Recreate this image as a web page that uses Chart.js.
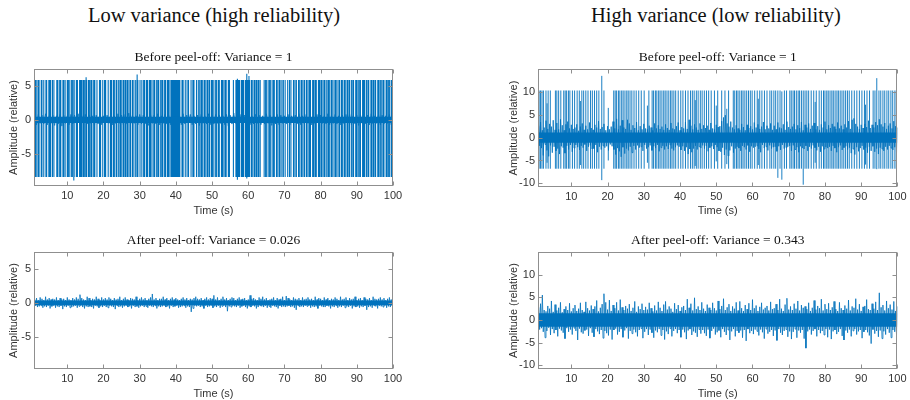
<!DOCTYPE html>
<html>
<head>
<meta charset="utf-8">
<script src="https://cdn.jsdelivr.net/npm/chart.js@4.4.0/dist/chart.umd.min.js"></script>
<style>
  body { margin: 0; background: #fff; }
  #wrap { position: relative; width: 910px; height: 400px; overflow: hidden; }
  #wrap canvas { position: absolute; left: 0; top: 0; }
  .head {
    position: absolute; top: 3px; transform: translateX(-50%);
    font: 20.5px/24px 'Liberation Serif', 'Times New Roman', serif;
    color: #111; white-space: nowrap;
  }
</style>
</head>
<body>
<div id="wrap">
  <div class="head" style="left:214px">Low variance (high reliability)</div>
  <div class="head" style="left:716px">High variance (low reliability)</div>
  <canvas id="lvBefore" width="910" height="400"></canvas>
  <canvas id="lvAfter" width="910" height="400"></canvas>
  <canvas id="hvBefore" width="910" height="400"></canvas>
  <canvas id="hvAfter" width="910" height="400"></canvas>
</div>
<script>
// time axis and tick labels
const timeTicks = [10, 20, 30, 40, 50, 60, 70, 80, 90, 100];
const lvAmpTicks = [-5, 0, 5];
const hvAmpTicks = [-10, -5, 0, 5, 10];

// decimated traces start at t = 1 s; the "before" low variance one is kept every 0.5 s,
// the others every 0.25 s
const traceStart = 1;

const lvBeforeTrace = [
  0.6,-0.7,0.8,-0.5,0.7,-0.6,0.9,-0.7,0.6,-0.5,0.7,-0.8,0.6,-0.6,0.8,-0.9,0.7,-0.5,0.6,-0.7,
  0.8,-0.6,0.7,-0.5,0.9,-0.7,0.6,-0.6,0.8,-0.6,0.7,-0.5,0.6,-0.8,0.7,-0.6,0.9,-0.7,0.6,-0.6,
  0.7,-0.5,0.8,-0.7,0.6,-0.6,0.9,-0.5,0.7,-0.7,0.8,-0.6,1.0,-0.6,0.7,-0.5,0.6,-0.7,0.8,-0.6,
  0.7,-0.6,0.6,-0.8,0.8,-0.5,0.7,-0.6,0.9,-0.7,0.6,-0.5,0.8,-0.6,0.7,-0.7,0.6,-0.6,0.8,-0.5,
  0.6,-0.7,0.9,-0.6,0.7,-0.5,0.8,-0.7,0.6,-0.6,0.7,-0.8,0.8,-0.5,0.6,-0.6,0.9,-0.7,0.7,-0.6,
  0.8,-0.5,0.7,-0.6,0.6,-0.7,0.8,-0.9,0.7,-0.6,1.0,-0.5,0.6,-0.7,0.8,-0.6,0.7,-0.5,0.9,-0.7,
  0.6,-0.6,0.8,-0.5,0.7,-0.7,0.6,-0.6,0.9,-0.5,0.7,-0.8,0.6,-0.6,0.8,-0.7,0.7,-0.5,0.6,-0.6,
  0.8,-0.7,0.6,-0.5,0.7,-0.6,0.9,-0.7,0.6,-0.6,0.8,-0.5,0.7,-0.7,0.6,-0.6,0.8,-0.8,0.7,-0.5,
  0.6,-0.6,0.9,-0.7,0.7,-0.5,0.8,-0.6,0.6,-0.7,0.7,-0.6,0.8,-0.5,0.9,-0.7,0.6,-0.6,0.7,-0.8,
  0.8,-0.5,0.6,-0.6,0.7,-0.7,0.9,-0.6,0.6,-0.5,0.8,-0.7,0.7,-0.6,0.6,-0.5,0.8,-0.7,0.7
];

const lvAfterTrace = [
  0.5,-0.4,0.7,-0.6,0.4,-0.5,0.8,-0.4,0.6,-0.7,0.4,-0.5,0.9,-0.6,0.5,-0.4,0.7,-0.8,0.5,-0.5,
  0.6,-0.4,0.5,-0.7,0.8,-0.5,0.4,-0.6,0.7,-0.4,0.5,-0.9,0.6,-0.5,0.4,-0.6,0.8,-0.4,0.5,-0.7,
  0.4,-0.6,0.7,-0.5,0.5,-0.4,0.8,-0.7,0.6,-0.5,1.2,-0.4,0.7,-0.6,0.5,-0.8,0.4,-0.5,0.9,-0.6,
  0.7,-0.5,0.4,-0.6,0.6,-0.8,0.5,-0.4,0.9,-0.5,0.6,-0.7,0.4,-0.5,0.8,-0.6,0.5,-0.4,0.7,-0.6,
  0.5,-0.7,0.8,-0.4,0.6,-0.5,0.4,-0.6,0.7,-0.9,0.5,-0.4,0.6,-0.6,0.9,-0.5,0.4,-0.7,0.6,-0.5,
  0.8,-0.4,0.5,-0.6,0.4,-0.5,0.7,-0.8,0.6,-0.4,0.5,-0.6,0.9,-0.5,0.4,-0.7,0.6,-0.5,0.8,-0.4,
  0.5,-0.6,0.7,-0.5,0.4,-0.7,0.6,-0.4,0.8,-0.5,1.3,-0.6,0.5,-0.4,0.7,-0.8,0.4,-0.5,0.6,-0.6,
  0.6,-0.5,0.9,-0.4,0.5,-0.6,0.7,-0.5,0.4,-0.8,0.6,-0.4,0.8,-0.6,0.5,-0.5,0.7,-0.4,0.5,-0.7,
  0.4,-0.6,0.6,-0.5,0.8,-0.4,0.5,-0.7,0.7,-0.5,0.4,-0.6,0.6,-1.3,0.5,-0.8,0.7,-0.4,0.9,-0.5,
  0.6,-0.4,0.5,-0.6,0.7,-0.5,0.4,-0.8,0.6,-0.4,0.8,-0.6,0.5,-0.5,0.7,-0.4,0.6,-0.7,1.1,-0.5,
  0.5,-0.6,0.8,-0.4,0.4,-0.7,0.6,-0.5,0.9,-0.4,0.5,-0.6,0.7,-1.2,0.4,-0.5,0.6,-0.6,0.8,-0.4,
  0.7,-0.5,0.4,-0.6,0.6,-0.4,0.8,-0.7,0.5,-0.5,0.6,-0.4,0.7,-0.6,0.4,-0.8,0.5,-0.5,1.1,-0.6,
  0.6,-0.4,0.7,-0.5,0.5,-0.8,0.4,-0.6,0.8,-0.4,0.6,-0.5,0.9,-0.6,0.5,-0.4,0.7,-0.7,0.4,-0.5,
  0.5,-0.7,0.6,-0.4,0.8,-0.5,0.4,-0.6,0.7,-0.8,0.5,-0.4,0.6,-0.6,0.9,-0.5,0.4,-0.6,1.0,-0.5,
  0.7,-0.4,0.5,-0.6,0.4,-0.5,0.8,-0.7,0.6,-1.0,0.5,-0.4,0.7,-0.6,0.4,-0.5,0.8,-0.6,0.5,-0.4,
  0.6,-0.5,0.8,-0.4,0.5,-0.7,0.6,-0.5,0.4,-0.6,0.9,-0.5,0.5,-0.8,0.7,-0.4,0.6,-0.5,0.4,-0.6,
  0.8,-0.6,0.5,-0.4,0.7,-0.5,0.4,-0.8,0.6,-0.5,0.5,-0.6,0.8,-0.4,0.6,-0.7,0.4,-0.5,0.9,-0.6,
  0.5,-0.4,0.6,-0.7,0.8,-0.5,0.4,-0.6,0.7,-0.4,0.5,-0.8,0.6,-0.5,0.9,-0.6,0.4,-0.5,0.6,-0.7,
  0.7,-0.5,0.4,-0.6,0.8,-0.4,0.6,-1.0,0.5,-0.6,0.7,-0.5,0.4,-0.7,0.9,-0.4,0.6,-0.5,0.5,-0.8,
  0.6,-0.4,0.8,-0.5,0.5,-0.6,0.7,-0.4,0.4,-0.7,0.6,-0.5,0.8,-0.6,0.5,-0.4,0.7
];

const hvBeforeTrace = [
  2.6,-1.8,3.4,-2.3,1.6,-3.9,2.2,-1.5,3.7,-2.8,1.9,-4.1,3.0,-1.7,2.4,-3.3,3.8,-2.0,1.7,-2.9,
  3.2,-2.4,1.8,-3.6,4.0,-1.9,2.7,-2.2,1.6,-3.4,2.9,-1.8,3.5,-2.6,2.0,-1.6,2.8,-3.1,1.9,-2.3,
  2.2,-1.6,2.9,-2.1,1.5,-2.7,2.4,-1.8,3.1,-2.2,1.7,-1.5,2.6,-2.9,1.8,-2.0,3.3,-1.7,2.1,-2.5,
  1.7,-2.4,2.8,-1.6,2.2,-3.2,3.6,-2.0,1.9,-2.6,2.3,-1.8,3.0,-2.2,1.6,-1.9,2.5,-2.8,1.8,-1.5,
  2.4,-1.9,3.5,-2.6,2.0,-3.7,4.1,-2.3,1.8,-3.0,2.6,-4.2,3.8,-2.1,2.2,-3.5,1.9,-2.4,3.9,-2.8,
  3.1,-2.0,1.7,-3.3,2.7,-1.8,2.1,-2.6,3.4,-1.7,1.6,-2.2,2.5,-2.0,1.8,-2.9,3.0,-1.6,2.0,-2.4,
  1.8,-2.1,2.6,-1.7,2.2,-2.8,1.6,-1.9,3.1,-2.3,2.0,-1.6,2.7,-3.0,1.9,-2.2,2.4,-1.8,1.7,-2.6,
  2.9,-1.9,2.1,-2.5,1.7,-1.6,3.2,-2.4,2.0,-2.8,1.8,-2.1,2.5,-1.7,3.3,-2.0,1.6,-2.7,2.3,-1.9,
  2.0,-2.9,3.4,-2.1,1.9,-3.6,3.9,-2.5,2.6,-3.2,1.8,-2.4,2.9,-1.8,2.2,-2.6,1.7,-2.0,3.1,-2.3,
  1.9,-1.7,2.7,-2.4,2.1,-1.8,2.6,-3.0,1.7,-2.2,3.2,-1.9,2.0,-2.5,1.8,-1.6,2.8,-2.1,2.3,-2.9,
  2.5,-3.1,3.6,-2.2,4.4,-3.8,4.9,-2.6,3.1,-4.0,2.4,-2.8,3.5,-1.9,2.2,-3.3,1.8,-2.4,2.7,-2.0,
  2.0,-2.3,1.7,-2.9,3.0,-1.8,2.3,-2.1,1.6,-2.6,2.8,-1.7,2.1,-3.1,2.5,-1.9,1.8,-2.2,3.3,-2.0,
  2.2,-1.8,2.9,-2.5,1.9,-3.2,2.4,-1.6,3.4,-2.3,1.8,-2.0,2.6,-2.8,2.0,-1.7,3.1,-2.4,1.7,-2.1,
  2.6,-2.0,1.8,-3.0,3.3,-1.9,2.2,-2.7,2.0,-1.6,2.9,-2.4,1.7,-2.2,3.5,-2.0,2.3,-1.8,1.9,-2.9,
  2.4,-1.7,3.0,-2.6,1.8,-2.1,2.7,-3.2,2.1,-1.9,3.4,-2.3,1.6,-2.5,2.8,-1.8,2.2,-2.9,3.1,-2.0,
  1.9,-2.4,2.6,-1.7,3.2,-2.2,1.8,-2.8,2.5,-2.0,1.7,-3.1,2.9,-1.9,2.2,-2.5,3.5,-2.1,1.8,-2.3,
  2.7,-2.0,2.1,-2.9,3.0,-1.8,2.4,-2.3,1.9,-3.2,3.3,-2.1,2.0,-1.7,2.6,-2.7,1.8,-2.2,2.9,-1.9,
  2.2,-2.6,3.6,-2.2,1.9,-3.4,3.9,-2.5,4.2,-3.7,3.0,-2.1,2.4,-3.0,1.9,-2.3,2.8,-1.8,2.1,-2.6,
  3.0,-2.2,2.3,-3.3,3.7,-2.0,2.1,-2.9,2.8,-1.9,2.2,-3.1,3.4,-2.4,2.7,-3.6,4.0,-2.2,2.9,-2.5,
  2.4,-2.9,3.2,-2.0,1.9,-2.6,2.6,-1.8,3.1,-2.3,2.0,-2.7,3.6,-2.1,2.5,-3.4,2.2
];

const hvAfterTrace = [
  2.8,-2.1,3.6,-1.8,5.5,-2.6,2.2,-3.9,1.9,-2.4,3.1,-1.7,2.5,-3.3,4.2,-2.0,1.8,-2.9,3.4,-2.2,
  2.1,-3.6,2.7,-1.9,3.9,-2.3,1.7,-2.8,2.4,-4.1,3.0,-1.8,2.2,-2.6,3.7,-2.1,1.9,-3.2,2.6,-1.8,
  3.3,-2.4,2.0,-4.4,2.5,-1.9,3.8,-2.7,2.2,-3.0,1.8,-2.3,4.0,-2.1,2.6,-3.5,2.1,-1.8,3.2,-2.8,
  2.4,-3.7,3.0,-2.0,4.3,-2.5,1.9,-3.1,2.7,-2.2,3.5,-4.0,5.8,-2.4,3.9,-2.9,2.3,-3.4,4.4,-2.1,
  2.0,-4.3,3.3,-2.2,2.6,-1.9,3.9,-3.2,2.1,-2.6,4.5,-2.0,2.8,-3.8,2.2,-2.3,3.1,-1.8,2.5,-4.1,
  3.5,-2.4,2.0,-3.0,2.7,-2.1,4.1,-2.7,1.8,-3.6,3.0,-2.2,2.4,-1.9,3.6,-4.0,2.2,-2.6,2.9,-2.0,
  2.3,-3.3,3.8,-2.1,2.6,-2.8,1.9,-3.9,3.2,-2.3,2.1,-2.7,4.0,-2.0,2.7,-3.4,2.0,-2.2,3.4,-4.3,
  4.1,-2.5,2.3,-3.1,3.0,-1.9,2.5,-3.6,1.8,-2.4,3.7,-2.0,2.4,-2.9,3.3,-2.2,2.0,-3.8,2.8,-2.1,
  3.1,-2.7,2.2,-4.2,4.6,-2.3,2.7,-2.0,3.6,-3.3,2.1,-2.5,4.9,-2.8,2.4,-3.7,3.0,-2.1,2.2,-3.0,
  3.9,-2.2,2.5,-2.9,2.0,-3.5,3.4,-2.1,2.7,-4.0,2.2,-2.4,3.8,-1.9,2.6,-3.2,2.1,-2.7,4.2,-2.3,
  2.4,-3.8,3.1,-2.0,4.7,-2.6,2.2,-3.3,2.8,-2.2,3.5,-4.4,2.0,-2.5,3.0,-2.0,2.5,-3.6,3.9,-2.4,
  2.1,-2.8,4.1,-2.3,2.6,-3.9,2.0,-2.2,3.3,-4.6,2.4,-2.0,3.7,-2.9,2.2,-2.4,4.5,-3.1,2.6,-2.1,
  3.2,-2.5,2.0,-3.4,2.9,-2.1,3.8,-2.7,2.3,-4.1,2.7,-2.0,3.1,-3.0,2.1,-2.6,4.0,-2.2,2.4,-3.5,
  2.6,-2.3,3.5,-4.5,2.2,-2.0,4.6,-2.8,2.5,-3.3,2.0,-2.4,3.4,-2.1,4.8,-3.7,2.3,-2.5,3.0,-4.2,
  2.2,-2.6,3.6,-2.0,2.5,-3.9,4.2,-2.3,2.1,-2.8,3.3,-2.2,2.7,-4.1,3.0,-6.2,2.4,-2.5,3.8,-2.1,
  2.0,-3.2,2.7,-2.4,4.3,-2.0,2.3,-3.6,3.1,-2.2,2.6,-2.9,4.6,-2.4,2.1,-3.3,3.5,-2.0,2.4,-3.8,
  3.7,-2.1,2.2,-4.2,2.8,-2.5,4.1,-2.2,2.4,-3.1,2.0,-2.6,3.9,-2.0,2.6,-3.5,2.2,-4.4,3.2,-2.3,
  2.5,-2.8,4.4,-2.1,2.1,-3.6,3.0,-2.4,2.7,-2.0,4.7,-3.2,2.3,-2.5,3.5,-2.2,2.0,-4.0,2.9,-2.6,
  3.1,-2.2,4.5,-2.7,2.4,-3.4,2.2,-5.2,3.6,-2.1,2.5,-3.0,4.0,-2.4,2.2,-3.7,6.0,-2.3,2.8,-4.1,
  3.3,-2.5,2.1,-3.2,4.2,-2.0,2.6,-2.8,3.4,-3.9,2.3,-2.2,4.1,-2.6,2.0,-3.3,3.0
];

// half width of the dense dark band around zero
const lvBeforeCore = 0.45;
const lvAfterCore = 0.35;
const hvBeforeCore = 1.1;
const hvAfterCore = 1.5;

// motor unit discharges (s) and their usual peak / trough
const lvSpikeTimes = [
  1.1, 1.4, 1.9, 2.2, 2.8, 3.0, 3.5, 4.1, 4.3, 4.9, 5.2, 5.4, 5.9, 6.3,
  7.1, 7.4, 7.9, 8.2, 8.8, 9.0, 9.4, 10.0, 10.3, 10.7, 11.2, 11.4, 11.9, 12.5, 12.8, 13.4,
  13.7, 14.0, 14.4, 14.7, 15.1, 15.3, 15.8, 16.1, 16.5, 16.8, 17.3, 17.6,
  18.2, 18.9, 19.2, 19.8, 20.3, 20.6, 21.3,
  21.9, 22.2, 22.7, 23.0, 23.5, 23.7, 24.2, 24.6, 24.9, 25.4, 25.7, 26.1, 26.5, 26.8, 27.3, 27.5, 28.0, 28.4,
  28.9, 29.3, 29.5, 30.1, 30.6,
  31.1, 31.4, 31.9, 32.2, 32.7, 33.0, 33.4, 33.9, 34.1, 34.6, 35.0, 35.2, 35.7, 36.1, 36.4, 36.9, 37.2, 37.7, 38.0, 38.4, 38.8, 39.1,
  39.4, 39.6, 39.9, 40.2, 40.5, 40.8, 41.1,
  41.7, 42.0, 42.6, 43.1, 43.5, 44.2, 44.7, 45.0, 45.7, 46.2,
  46.6, 47.0, 47.3, 47.8, 48.1, 48.6, 48.9, 49.3, 49.8, 50.1, 50.5, 51.0, 51.2, 51.7, 52.0, 52.6, 52.9, 53.3, 53.7, 53.9, 54.5, 54.8,
  55.9, 56.6, 56.9, 57.3, 57.6, 58.1, 58.4, 58.7, 59.2, 59.4, 59.8, 60.0, 60.4, 60.9, 61.1, 61.6, 61.9, 62.3, 62.7, 62.9, 63.3,
  64.4, 64.8, 65.0, 65.5, 65.9, 66.1, 66.6, 67.0, 67.2, 67.8, 68.0, 68.5, 68.8, 69.3, 69.7,
  70.2, 70.9, 71.4, 71.8, 72.5,
  72.9, 73.3, 73.9, 74.1, 74.6, 74.9, 75.4, 75.6, 76.1, 76.5, 76.9, 77.2, 77.8, 78.1, 78.5, 78.8, 79.4, 79.7,
  80.1, 80.4, 80.9, 81.2, 81.7, 82.1, 82.4, 82.9, 83.2, 83.7, 84.1, 84.3, 84.8, 85.2, 85.7, 86.0, 86.5, 86.8, 87.3, 87.6,
  88.0, 88.5, 88.9, 89.1, 89.7, 90.0, 90.4, 90.8, 91.0, 91.6, 91.9, 92.2, 92.7, 93.1, 93.3, 93.9, 94.2, 94.6,
  95.0, 95.2, 95.8, 96.1, 96.5, 96.9, 97.3, 97.5, 98.1, 98.4, 98.8, 99.0, 99.5, 99.8
];
const lvSpikePeak = 5.8;
const lvSpikeTrough = -8.3;
// [time, peak, trough] for discharges that stick out
const lvOddSpikes = [[11.8, 5.8, -8.8], [15.2, 6.2, -8.3], [29.3, 6.6, -8.3], [57.0, 6.0, -8.7], [59.6, 6.7, -8.5], [60.2, 6.4, -8.3]];

const hvSpikeTimes = [
  1.1, 1.5, 1.9, 2.3, 3.0, 3.6, 4.2, 5.6, 6.0, 6.5, 7.1, 7.9, 8.3, 8.7, 9.2, 9.6,
  10.3, 10.9, 11.6, 12.2, 12.9, 13.4, 14.0, 14.6, 15.3, 15.8, 16.4, 17.0, 17.6, 19.0,
  21.7, 22.1, 22.5, 23.0, 23.4, 23.9, 24.3, 24.8, 25.3, 25.7, 26.2, 26.7, 27.3, 27.9, 28.6, 29.3, 30.1,
  31.4, 32.3, 32.7, 33.2, 33.6, 34.1, 34.5, 35.0, 35.5, 35.9, 36.4, 36.9, 37.4, 37.8, 38.3, 38.8,
  39.5, 40.2, 40.8, 41.5, 42.2, 42.9, 43.4, 43.9, 44.5, 45.0, 45.6, 46.1, 46.7, 47.3, 47.9, 48.6,
  49.5, 50.4, 51.5, 52.4, 53.4,
  54.7, 55.1, 55.6, 56.0, 56.5, 57.0, 57.4, 57.9, 58.4, 58.9, 59.4, 59.9,
  60.6, 61.3, 62.0, 62.6, 63.3, 64.0, 64.8, 65.3, 65.9, 66.4, 67.6, 68.8, 69.4,
  70.3, 70.7, 71.2, 71.6, 72.1, 72.6, 73.0, 73.5, 74.5, 75.0, 75.5, 76.2, 76.9, 77.6, 78.4,
  79.0, 79.6, 80.0, 80.5, 80.9, 81.4, 81.9, 82.3, 82.8, 83.3, 83.7, 84.2, 84.7, 85.2, 85.7, 86.2, 86.7,
  87.4, 88.1, 88.8, 89.5, 90.2, 90.9, 91.6, 92.3,
  93.3, 93.8, 94.9, 95.4, 96.0, 96.5, 97.1, 97.6, 98.2, 98.7, 99.3, 99.7
];
const hvSpikePeak = 10.3;
const hvSpikeTrough = -6.8;
const hvOddSpikes = [
  [18.4, 13.5, -9.3], [67.0, 10.3, -8.8], [68.1, 10.1, -9.2], [74.0, 10.3, -10.3], [94.3, 13.0, -6.9],
  [3.3, 7.5, -5.5], [12.5, 8.0, -6.0], [20.2, 6.5, -5.0], [31.0, 7.0, -5.5], [44.2, 8.2, -6.2],
  [50.0, 7.0, -5.2], [52.9, 6.3, -5.8], [61.6, 8.5, -6.0], [77.3, 7.8, -5.5], [91.2, 7.2, -5.9]
];

const BLUE = '#0072BD';
const AXIS = '#8f8f8f';
const LABEL = '#333333';

function traceToPoints(trace, step) {
  return trace.map((v, i) => ({ x: traceStart + i * step, y: v }));
}

// each discharge is a vertical stroke from trough to peak
function spikesToPoints(times, peak, trough, odd) {
  const pts = [];
  times.forEach((t) => {
    pts.push({ x: t, y: trough }, { x: t, y: peak }, { x: t, y: null });
  });
  odd.forEach(([t, p, tr]) => {
    pts.push({ x: t, y: tr }, { x: t, y: p }, { x: t, y: null });
  });
  return pts;
}

// matlab style box with inward ticks on all four sides
const axesBox = {
  id: 'axesBox',
  afterDatasetsDraw(chart) {
    const { ctx, chartArea: a, scales } = chart;
    const l = Math.round(a.left) + 0.5, r = Math.round(a.right) - 0.5;
    const t = Math.round(a.top) + 0.5, b = Math.round(a.bottom) - 0.5;
    ctx.save();
    ctx.strokeStyle = AXIS;
    ctx.lineWidth = 1;
    ctx.strokeRect(l, t, r - l, b - t);
    ctx.beginPath();
    scales.x.ticks.forEach((tk) => {
      const px = Math.round(scales.x.getPixelForValue(tk.value)) + 0.5;
      ctx.moveTo(px, b); ctx.lineTo(px, b - 4);
      ctx.moveTo(px, t); ctx.lineTo(px, t + 4);
    });
    scales.y.ticks.forEach((tk) => {
      const py = Math.round(scales.y.getPixelForValue(tk.value)) + 0.5;
      ctx.moveTo(l, py); ctx.lineTo(l + 4, py);
      ctx.moveTo(r, py); ctx.lineTo(r - 4, py);
    });
    ctx.stroke();
    ctx.restore();
  },
};

function drawPanel(id, p) {
  const a = p.area;
  const fontSans = { family: "'Liberation Sans', Arial, sans-serif", size: 11 };
  new Chart(document.getElementById(id), {
    type: 'line',
    data: {
      datasets: [
        {
          data: [{ x: p.xMin, y: p.core }, { x: 100, y: p.core }],
          fill: { value: -p.core },
          backgroundColor: BLUE,
          borderWidth: 0,
          pointRadius: 0,
        },
        {
          data: traceToPoints(p.trace, p.step),
          borderColor: BLUE,
          borderWidth: 0.8,
          pointRadius: 0,
          fill: false,
        },
        {
          data: p.spikes,
          borderColor: BLUE,
          borderWidth: p.spikeWidth,
          pointRadius: 0,
          fill: false,
          spanGaps: false,
        },
      ],
    },
    options: {
      responsive: false,
      animation: false,
      events: [],
      layout: {
        padding: {
          left: p.yTitleX - 6.6,
          right: 910 - a.r,
          top: p.titleY - 8.1,
          bottom: 400 - p.xTitleY - 6.6,
        },
      },
      plugins: {
        legend: { display: false },
        tooltip: { enabled: false },
        title: {
          display: true,
          text: p.title,
          fullSize: false,
          color: '#111',
          font: { family: "'Liberation Serif', 'Times New Roman', serif", size: 13.5, weight: 'normal', lineHeight: 1.2 },
          padding: { top: 0, bottom: a.t - p.titleY - 8.1 },
        },
      },
      scales: {
        x: {
          type: 'linear',
          min: p.xMin,
          max: 100,
          grid: { display: false, drawTicks: false },
          border: { display: false },
          afterBuildTicks: (s) => { s.ticks = timeTicks.map((v) => ({ value: v })); },
          afterFit: (s) => { s.height = p.xTitleY - a.b + 6.6; },
          ticks: { color: LABEL, font: fontSans, padding: 3.4, maxRotation: 0, autoSkip: false },
          title: { display: true, text: 'Time (s)', color: LABEL, font: fontSans, padding: 0 },
        },
        y: {
          min: p.yMin,
          max: p.yMax,
          grid: { display: false, drawTicks: false },
          border: { display: false },
          afterBuildTicks: (s) => { s.ticks = p.yTicks.map((v) => ({ value: v })); },
          afterFit: (s) => { s.width = a.l - (p.yTitleX - 6.6); },
          ticks: { color: LABEL, font: fontSans, padding: 3 },
          title: { display: true, text: 'Amplitude (relative)', color: LABEL, font: fontSans, padding: 0 },
        },
      },
    },
    plugins: [axesBox],
  });
}

drawPanel('lvBefore', {
  title: 'Before peel-off: Variance = 1',
  area: { l: 34, t: 69, r: 393, b: 186 },
  titleY: 57, xTitleY: 211, yTitleX: 13.7,
  xMin: 0.8, yMin: -9.6, yMax: 7.4, yTicks: lvAmpTicks,
  core: lvBeforeCore, trace: lvBeforeTrace, step: 0.5,
  spikes: spikesToPoints(lvSpikeTimes, lvSpikePeak, lvSpikeTrough, lvOddSpikes), spikeWidth: 1.1,
});

drawPanel('lvAfter', {
  title: 'After peel-off: Variance = 0.026',
  area: { l: 34, t: 252, r: 393, b: 369 },
  titleY: 240, xTitleY: 394, yTitleX: 13.7,
  xMin: 0.8, yMin: -9.6, yMax: 7.4, yTicks: lvAmpTicks,
  core: lvAfterCore, trace: lvAfterTrace, step: 0.25,
  spikes: [], spikeWidth: 1,
});

drawPanel('hvBefore', {
  title: 'Before peel-off: Variance = 1',
  area: { l: 538, t: 69, r: 899, b: 187 },
  titleY: 57, xTitleY: 211, yTitleX: 514,
  xMin: 0.8, yMin: -10.8, yMax: 15, yTicks: hvAmpTicks,
  core: hvBeforeCore, trace: hvBeforeTrace, step: 0.25,
  spikes: spikesToPoints(hvSpikeTimes, hvSpikePeak, hvSpikeTrough, hvOddSpikes), spikeWidth: 0.9,
});

drawPanel('hvAfter', {
  title: 'After peel-off: Variance = 0.343',
  area: { l: 538, t: 252, r: 899, b: 369 },
  titleY: 240, xTitleY: 394, yTitleX: 514,
  xMin: 0.8, yMin: -10.8, yMax: 15, yTicks: hvAmpTicks,
  core: hvAfterCore, trace: hvAfterTrace, step: 0.25,
  spikes: [], spikeWidth: 1,
});
</script>
</body>
</html>
